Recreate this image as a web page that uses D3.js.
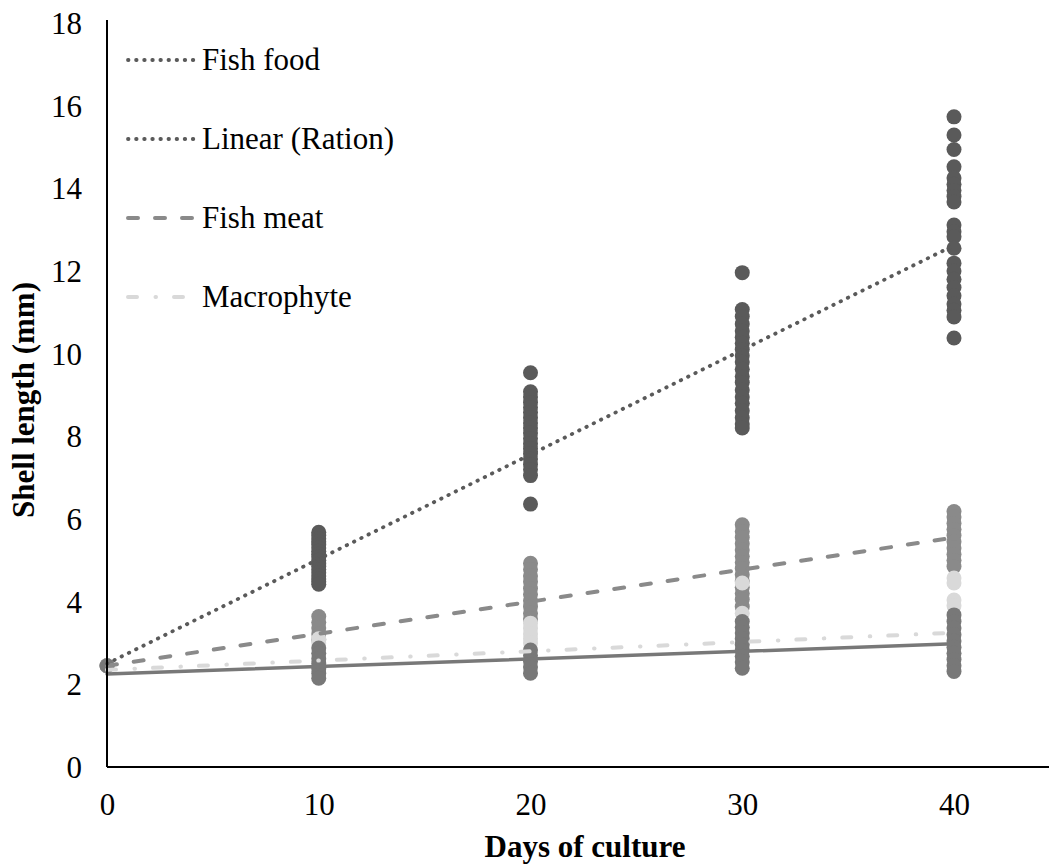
<!DOCTYPE html>
<html>
<head>
<meta charset="utf-8">
<script src="https://cdn.jsdelivr.net/npm/d3@7"></script>
<style>
  html, body { margin: 0; padding: 0; background: #fff; }
  svg { display: block; }
  text { font-family: "Liberation Serif", "Times New Roman", serif; fill: #000; }
</style>
</head>
<body>
<svg id="chart" width="1051" height="867"></svg>
<script>
// ---- data ----
const days = [0, 10, 20, 30, 40];
const xTicks = [0, 10, 20, 30, 40];
const yTicks = [0, 2, 4, 6, 8, 10, 12, 14, 16, 18];

// shell length observations per day (mm)
const fishFood = [
  [2.45],
  [5.68, 5.6, 5.52, 5.45, 5.38, 5.3, 5.22, 5.15, 5.08, 5.0, 4.92, 4.85, 4.78, 4.7, 4.62, 4.55, 4.48, 4.42],
  [9.54, 9.08, 8.95, 8.82, 8.7, 8.58, 8.45, 8.32, 8.2, 8.08, 7.95, 7.82, 7.7, 7.58, 7.45, 7.32, 7.2, 7.05, 6.36],
  [11.96, 11.07, 10.9, 10.72, 10.55, 10.4, 10.25, 10.1, 9.95, 9.8, 9.62, 9.45, 9.3, 9.12, 8.95, 8.8, 8.62, 8.45, 8.3, 8.2],
  [15.73, 15.29, 14.94, 14.52, 14.25, 14.1, 13.95, 13.8, 13.67, 13.11, 12.95, 12.83, 12.55, 12.19, 12.0, 11.8, 11.6, 11.4, 11.2, 11.05, 10.89, 10.38]
];
const fishMeat = [
  [2.45],
  [3.64, 3.5, 3.36, 3.22, 3.08],
  [4.93, 4.78, 4.62, 4.48, 4.32, 4.18, 4.02, 3.88, 3.72, 3.58],
  [5.86, 5.7, 5.55, 5.4, 5.25, 5.1, 4.95, 4.8, 4.65, 4.5, 4.35, 4.2, 4.05, 3.88],
  [6.18, 6.05, 5.9, 5.75, 5.6, 5.45, 5.3, 5.15, 5.0, 4.85]
];
const macrophyte = [
  [2.45],
  [3.1, 3.0],
  [3.48, 3.35, 3.22, 3.1, 3.0],
  [4.45, 3.72],
  [4.57, 4.45, 4.04, 3.9]
];
const ration = [
  [2.45],
  [2.88, 2.75, 2.62, 2.5, 2.38, 2.26, 2.15],
  [2.83, 2.7, 2.56, 2.42, 2.27],
  [3.52, 3.38, 3.24, 3.1, 2.96, 2.82, 2.68, 2.54, 2.39],
  [3.68, 3.52, 3.36, 3.2, 3.05, 2.9, 2.75, 2.6, 2.45, 2.31]
];

// linear trend lines: value at day 0 and at day 40
const trendDays = [0, 40];
const trendFishFood = [2.5, 12.62];
const trendFishMeat = [2.45, 5.55];
const trendMacrophyte = [2.35, 3.25];
const trendRation = [2.25, 2.98];

const legendLabels = ["Fish food", "Linear (Ration)", "Fish meat", "Macrophyte"];

// ---- styles ----
const C_FOOD = "#5a5a5a", C_MEAT = "#8a8a8a", C_MACRO = "#d9d9d9", C_RATION = "#787878";
const DOT = "0.5,7.6", DASH = "10,17", DASHDOT = "9,18.5,0.5,18";
const FONT = "'Liberation Serif', 'Times New Roman', serif";

const svg = d3.select("#chart");
const x = d3.scaleLinear().domain([0, 40]).range([107, 954]);
const y = d3.scaleLinear().domain([0, 18]).range([767, 23]);

// points
const pointSeries = [
  { data: fishFood, color: C_FOOD },
  { data: fishMeat, color: C_MEAT },
  { data: macrophyte, color: C_MACRO },
  { data: ration, color: C_RATION }
];
pointSeries.forEach(s => {
  const pts = [];
  s.data.forEach((vals, i) => vals.forEach(v => pts.push({ d: days[i], v })));
  svg.append("g").selectAll("circle").data(pts).join("circle")
    .attr("cx", p => x(p.d)).attr("cy", p => y(p.v)).attr("r", 7.5)
    .attr("fill", s.color);
});

// trend lines
const line = d3.line().x(d => x(d[0])).y(d => y(d[1]));
const trends = [
  { vals: trendRation, color: C_RATION, dash: null, w: 3.5 },
  { vals: trendMacrophyte, color: C_MACRO, dash: DASHDOT, w: 4 },
  { vals: trendFishMeat, color: C_MEAT, dash: DASH, w: 4 },
  { vals: trendFishFood, color: C_FOOD, dash: DOT, w: 3.8 }
];
trends.forEach(t => {
  svg.append("path")
    .attr("d", line(trendDays.map((d, i) => [d, t.vals[i]])))
    .attr("fill", "none").attr("stroke", t.color).attr("stroke-width", t.w)
    .attr("stroke-linecap", "round")
    .attr("stroke-dasharray", t.dash);
});

// axes
svg.append("line").attr("x1", x(0)).attr("x2", x(0)).attr("y1", 20).attr("y2", y(0))
  .attr("stroke", "#000").attr("stroke-width", 2);
svg.append("line").attr("x1", x(0)).attr("x2", 1049).attr("y1", y(0)).attr("y2", y(0))
  .attr("stroke", "#000").attr("stroke-width", 2);

const xAxis = svg.append("g").attr("transform", `translate(0,${y(0)})`)
  .attr("font-family", FONT)
  .call(d3.axisBottom(x).tickValues(xTicks).tickSize(0).tickPadding(0).tickFormat(d3.format("d")));
xAxis.attr("font-family", FONT).attr("font-size", 31);
xAxis.select(".domain").remove();
xAxis.selectAll("text").attr("y", 48).attr("dy", null)
  .style("font-size", "31px").style("font-family", FONT).attr("fill", "#000");

const yAxis = svg.append("g").attr("transform", `translate(82,0)`)
  .call(d3.axisLeft(y).tickValues(yTicks).tickSize(0).tickPadding(0).tickFormat(d3.format("d")));
yAxis.attr("font-family", FONT).attr("font-size", 31);
yAxis.select(".domain").remove();
yAxis.selectAll("text").attr("x", 0).attr("dy", "0.34em")
  .style("font-size", "31px").style("font-family", FONT).attr("fill", "#000");

// axis titles
svg.append("text").attr("x", 585).attr("y", 857).attr("text-anchor", "middle")
  .style("font-family", FONT).style("font-size", "31px").style("font-weight", "bold").text("Days of culture");
svg.append("text").attr("transform", "translate(34,400) rotate(-90)").attr("text-anchor", "middle")
  .style("font-family", FONT).style("font-size", "31px").style("font-weight", "bold").text("Shell length (mm)");

// legend
const legendStyles = [
  { color: C_FOOD, dash: DOT, w: 3.8 },
  { color: C_FOOD, dash: DOT, w: 3.8 },
  { color: C_MEAT, dash: DASH, w: 4 },
  { color: C_MACRO, dash: DASHDOT, w: 4 }
];
const legendY = d3.scalePoint().domain(legendLabels).range([60, 297]);
legendLabels.forEach((lab, i) => {
  const st = legendStyles[i];
  const ly = legendY(lab);
  svg.append("line").attr("x1", 128).attr("x2", 194).attr("y1", ly).attr("y2", ly)
    .attr("stroke", st.color).attr("stroke-width", st.w).attr("stroke-linecap", "round")
    .attr("stroke-dasharray", st.dash);
  svg.append("text").attr("x", 202).attr("y", ly + 9.5)
    .style("font-family", FONT).style("font-size", "31px").text(lab);
});
</script>
</body>
</html>
